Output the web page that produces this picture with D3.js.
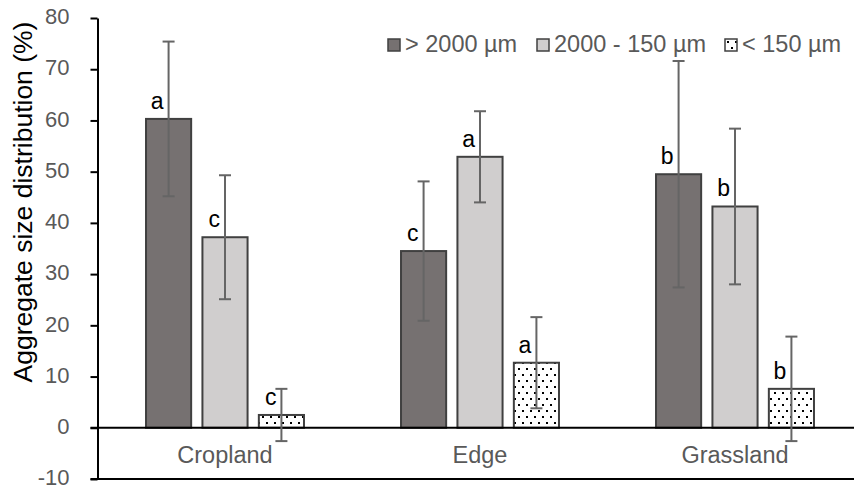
<!DOCTYPE html>
<html>
<head>
<meta charset="utf-8">
<script src="https://cdn.jsdelivr.net/npm/d3@7"></script>
<style>
    html, body { margin: 0; padding: 0; background: #fff; }
    svg { display: block; font-family: "Liberation Sans", Arial, sans-serif; }
</style>
</head>
<body>
<div id="chart"></div>
<script>
const WIDTH = 854;
const HEIGHT = 490;

// data
const categories = ["Cropland", "Edge", "Grassland"];
const seriesNames = ["> 2000 µm", "2000 - 150 µm", "< 150 µm"];
const largeMeans = [60.3, 34.5, 49.5];
const midMeans = [37.2, 52.9, 43.2];
const smallMeans = [2.5, 12.7, 7.6];
const largeErr = [15.1, 13.6, 22.1];
const midErr = [12.1, 8.9, 15.2];
const smallErr = [5.1, 8.9, 10.2];
const largeLetters = ["a", "c", "b"];
const midLetters = ["c", "a", "b"];
const smallLetters = ["c", "a", "b"];
const yTicks = [-10, 0, 10, 20, 30, 40, 50, 60, 70, 80];

const means = [largeMeans, midMeans, smallMeans];
const errs = [largeErr, midErr, smallErr];
const letters = [largeLetters, midLetters, smallLetters];

const data = [];
categories.forEach((c, i) => {
    seriesNames.forEach((s, j) => {
        data.push({ cat: c, series: s, value: means[j][i], err: errs[j][i], letter: letters[j][i] });
    });
});

const margin = { left: 97.5, top: 18, bottom: 11 };
const plotRight = 862.5;

const svg = d3.select("#chart").append("svg")
    .attr("width", WIDTH)
    .attr("height", HEIGHT);

const defs = svg.append("defs");
const pat = defs.append("pattern")
    .attr("id", "dots")
    .attr("patternUnits", "userSpaceOnUse")
    .attr("width", 8)
    .attr("height", 12);
pat.append("rect").attr("width", 8).attr("height", 12).attr("fill", "#fff");
pat.append("rect").attr("x", 2).attr("y", 2).attr("width", 2).attr("height", 2).attr("fill", "#000");
pat.append("rect").attr("x", 6).attr("y", 8).attr("width", 2).attr("height", 2).attr("fill", "#000");

const fills = {};
fills[seriesNames[0]] = "#767171";
fills[seriesNames[1]] = "#d0cece";
fills[seriesNames[2]] = "url(#dots)";

const x0 = d3.scaleBand()
    .domain(categories)
    .range([margin.left, plotRight]);

const x1 = d3.scaleBand()
    .domain(seriesNames)
    .range([0, x0.bandwidth()])
    .paddingInner(0.2)
    .paddingOuter(0.86);

const y = d3.scaleLinear()
    .domain([-10, 80])
    .range([HEIGHT - margin.bottom, margin.top]);

// y axis
const yAxis = d3.axisLeft(y)
    .tickValues(yTicks)
    .tickSize(7)
    .tickSizeOuter(0)
    .tickPadding(21)
    .tickFormat(d => String(d));

const yg = svg.append("g")
    .attr("transform", "translate(" + margin.left + ",0)")
    .call(yAxis);
yg.select(".domain").attr("stroke", "#000").attr("stroke-width", 2);
yg.selectAll(".tick line").attr("stroke", "#000").attr("stroke-width", 2);
yg.selectAll(".tick text")
    .attr("fill", "#595959")
    .attr("dy", "0.26em")
    .style("font-size", "22px")
    .attr("font-family", null);

// bars
const bars = svg.append("g");
bars.selectAll("rect")
    .data(data)
    .join("rect")
    .attr("x", d => x0(d.cat) + x1(d.series))
    .attr("y", d => y(d.value))
    .attr("width", x1.bandwidth())
    .attr("height", d => y(0) - y(d.value))
    .attr("fill", d => fills[d.series])
    .attr("stroke", "#404040")
    .attr("stroke-width", 2);

// horizontal lines at 0 and -10
svg.append("line")
    .attr("x1", margin.left - 7).attr("x2", WIDTH)
    .attr("y1", y(0)).attr("y2", y(0))
    .attr("stroke", "#000").attr("stroke-width", 2);
svg.append("line")
    .attr("x1", margin.left - 7).attr("x2", WIDTH)
    .attr("y1", y(-10)).attr("y2", y(-10))
    .attr("stroke", "#000").attr("stroke-width", 2);

// error bars
const eb = svg.append("g")
    .attr("stroke", "#656565")
    .attr("stroke-width", 2);
const cx = d => x0(d.cat) + x1(d.series) + x1.bandwidth() / 2;
eb.selectAll(".stem")
    .data(data)
    .join("line")
    .attr("x1", cx).attr("x2", cx)
    .attr("y1", d => y(d.value + d.err))
    .attr("y2", d => y(d.value - d.err));
eb.selectAll(".capTop")
    .data(data)
    .join("line")
    .attr("class", "capTop")
    .attr("x1", d => cx(d) - 6).attr("x2", d => cx(d) + 6)
    .attr("y1", d => y(d.value + d.err)).attr("y2", d => y(d.value + d.err));
eb.selectAll(".capBot")
    .data(data)
    .join("line")
    .attr("class", "capBot")
    .attr("x1", d => cx(d) - 6).attr("x2", d => cx(d) + 6)
    .attr("y1", d => y(d.value - d.err)).attr("y2", d => y(d.value - d.err));

// letters
svg.append("g").selectAll("text")
    .data(data)
    .join("text")
    .attr("x", d => cx(d) - 5)
    .attr("y", d => y(d.value) - 10)
    .attr("text-anchor", "end")
    .attr("fill", "#000")
    .style("font-size", "23px")
    .text(d => d.letter);

// category labels
svg.append("g").selectAll("text")
    .data(categories)
    .join("text")
    .attr("x", d => x0(d) + x0.bandwidth() / 2)
    .attr("y", 463)
    .attr("text-anchor", "middle")
    .attr("fill", "#595959")
    .style("font-size", "23.5px")
    .text(d => d);

// y title
svg.append("text")
    .attr("transform", "translate(32,202) rotate(-90)")
    .attr("text-anchor", "middle")
    .attr("fill", "#000")
    .style("font-size", "26.5px")
    .text("Aggregate size distribution (%)");

// legend
const legendX = [388, 537, 725];
const legend = svg.append("g").selectAll("g")
    .data(seriesNames)
    .join("g")
    .attr("transform", (d, i) => "translate(" + legendX[i] + ",39)");
legend.append("rect")
    .attr("width", 12)
    .attr("height", 12)
    .attr("fill", d => fills[d])
    .attr("stroke", "#404040")
    .attr("stroke-width", 1.5);
legend.append("text")
    .attr("x", 17)
    .attr("y", 13)
    .attr("fill", "#595959")
    .style("font-size", "23.5px")
    .text(d => d);
</script>
</body>
</html>
